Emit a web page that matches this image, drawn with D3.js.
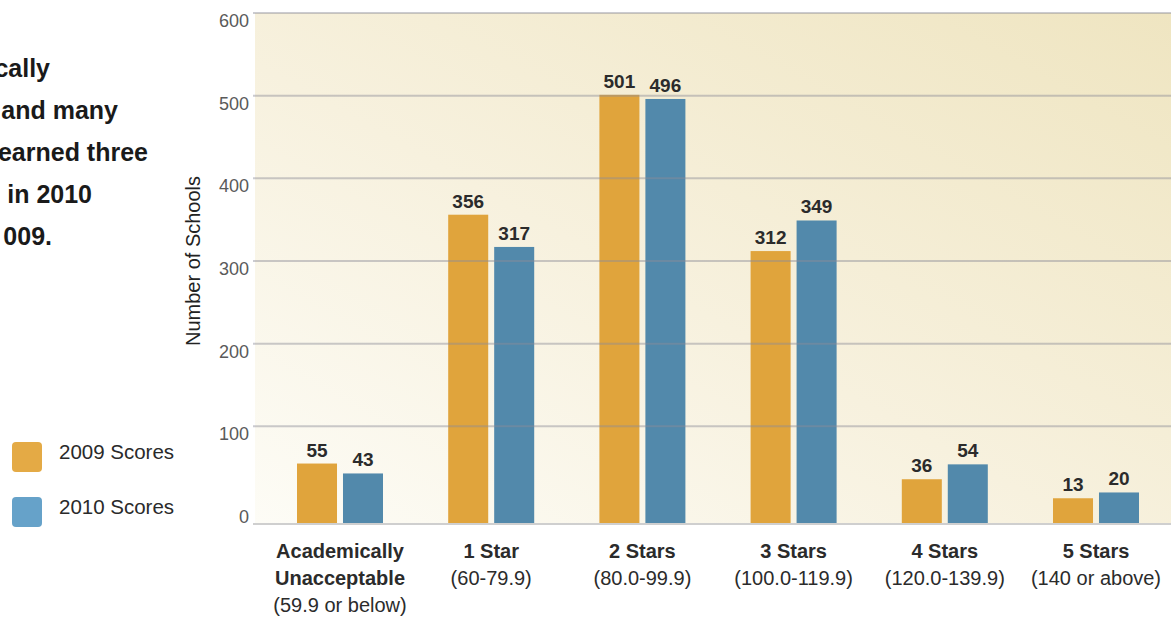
<!DOCTYPE html>
<html lang="en">
  <head>
    <meta charset="utf-8">
    <title>Schools by rating</title>
    <style>
    body {
        margin: 0;
        background: #fff;
    }
    svg {
        display: block;
        font-family: "Liberation Sans", Arial, sans-serif;
    }
    .intro {
        font-weight: bold;
        font-size: 25px;
        fill: #1a1a1a;
    }
    .legend text {
        font-size: 20.5px;
        fill: #2a2a2a;
    }
    .tick-label {
        font-size: 18px;
        fill: #5a5a5a;
    }
    .value {
        font-size: 19px;
        font-weight: bold;
        fill: #2b2b2b;
    }
    .cat {
        font-size: 20px;
        fill: #2b2b2b;
    }
    </style>
  </head>
  <body>
    <div id="chart"></div>

    <script src="https://d3js.org/d3.v7.min.js"></script>
    <script>
    (function(d3) {
        'use strict';

        // data
        var categories = ['Academically Unacceptable', '1 Star', '2 Stars', '3 Stars', '4 Stars', '5 Stars'];
        var nameLines = [['Academically', 'Unacceptable'], ['1 Star'], ['2 Stars'], ['3 Stars'], ['4 Stars'], ['5 Stars']];
        var ranges = ['(59.9 or below)', '(60-79.9)', '(80.0-99.9)', '(100.0-119.9)', '(120.0-139.9)', '(140 or above)'];
        var seriesNames = ['2009 Scores', '2010 Scores'];
        var scores2009 = [55, 356, 501, 312, 36, 13];
        var scores2010 = [43, 317, 496, 349, 54, 20];
        var yTicks = [0, 100, 200, 300, 400, 500, 600];
        var introLines = ['cally', 'and many', 'earned three', ' in 2010', '009.'];

        var width = 1171;
        var height = 617;
        var plotLeft = 255;
        var plotRight = 1171;
        var plotTop = 13;
        var zeroY = 509;      // where the 0 grid level sits
        var floorY = 524;     // visual base line of the bars

        var barColors = ['#e0a43c', '#5289ab'];
        var swatchColors = ['#e4aa45', '#66a2c9'];

        var svg = d3.select('#chart')
            .append('svg')
            .attr('width', width)
            .attr('height', height);

        var defs = svg.append('defs');
        var grad = defs.append('linearGradient')
            .attr('id', 'bg')
            .attr('x1', 0).attr('y1', 1)
            .attr('x2', 1).attr('y2', 0);
        grad.append('stop').attr('offset', '0%').attr('stop-color', '#fdfcf6');
        grad.append('stop').attr('offset', '45%').attr('stop-color', '#f7f1de');
        grad.append('stop').attr('offset', '100%').attr('stop-color', '#efe5c1');

        var x0 = d3.scaleBand()
            .domain(categories)
            .range([264.4, 1171.6])
            .padding(0);

        var x1 = d3.scaleBand()
            .domain(seriesNames)
            .range([-43, 43])
            .paddingInner(0.13);

        var y = d3.scaleLinear()
            .domain([0, 600])
            .range([zeroY, plotTop]);

        // background panel
        svg.append('rect')
            .attr('x', plotLeft)
            .attr('y', y(600))
            .attr('width', plotRight - plotLeft)
            .attr('height', floorY - y(600))
            .attr('fill', 'url(#bg)');

        // bars
        var rows = categories.map(function(c, i) {
            return {cat: c, values: [scores2009[i], scores2010[i]]};
        });

        var groups = svg.selectAll('.group')
            .data(rows)
            .enter()
            .append('g')
            .attr('class', 'group')
            .attr('transform', function(d) {
                return 'translate(' + (x0(d.cat) + x0.bandwidth() / 2) + ',0)';
            });

        var bars = groups.selectAll('g.bar')
            .data(function(d) {
                return d.values.map(function(v, i) { return {series: seriesNames[i], value: v, i: i}; });
            })
            .enter()
            .append('g')
            .attr('class', 'bar');

        bars.append('rect')
            .attr('x', function(d) { return x1(d.series); })
            .attr('y', function(d) { return y(d.value); })
            .attr('width', x1.bandwidth())
            .attr('height', function(d) { return floorY - y(d.value); })
            .attr('fill', function(d) { return barColors[d.i]; });

        // grid lines over the bars
        svg.append('g')
            .selectAll('line')
            .data(yTicks.filter(function(t) { return t > 0; }))
            .enter()
            .append('line')
            .attr('x1', plotLeft - 2)
            .attr('x2', plotRight)
            .attr('y1', function(d) { return y(d); })
            .attr('y2', function(d) { return y(d); })
            .attr('stroke', 'rgba(140,140,150,0.45)')
            .attr('stroke-width', 2);

        svg.append('line')
            .attr('x1', plotLeft - 2)
            .attr('x2', plotRight)
            .attr('y1', floorY)
            .attr('y2', floorY)
            .attr('stroke', '#cfcfcf')
            .attr('stroke-width', 2);

        // value labels
        bars.append('text')
            .attr('class', 'value')
            .attr('x', function(d) { return x1(d.series) + x1.bandwidth() / 2; })
            .attr('y', function(d) { return y(d.value) - 7; })
            .attr('text-anchor', 'middle')
            .text(function(d) { return d.value; });

        // y tick labels
        svg.append('g')
            .selectAll('text')
            .data(yTicks)
            .enter()
            .append('text')
            .attr('class', 'tick-label')
            .attr('x', plotLeft - 6)
            .attr('y', function(d) { return y(d) + 14; })
            .attr('text-anchor', 'end')
            .text(function(d) { return d; });

        // y title
        svg.append('text')
            .attr('transform', 'translate(200,' + y(300) + ') rotate(-90)')
            .attr('text-anchor', 'middle')
            .attr('font-size', 20)
            .attr('fill', '#222')
            .text('Number of Schools');

        // category labels
        var cats = svg.append('g')
            .selectAll('text')
            .data(categories)
            .enter()
            .append('text')
            .attr('class', 'cat')
            .attr('text-anchor', 'middle')
            .attr('x', function(d) { return x0(d) + x0.bandwidth() / 2; })
            .attr('y', 558);

        cats.each(function(d, i) {
            var t = d3.select(this);
            var cx = x0(d) + x0.bandwidth() / 2;
            nameLines[i].forEach(function(line, j) {
                t.append('tspan')
                    .attr('x', cx)
                    .attr('dy', j === 0 ? 0 : 27)
                    .attr('font-weight', 'bold')
                    .text(line);
            });
            t.append('tspan')
                .attr('x', cx)
                .attr('dy', 27)
                .text(ranges[i]);
        });

        // legend
        var legend = svg.selectAll('.legend')
            .data(seriesNames)
            .enter()
            .append('g')
            .attr('class', 'legend')
            .attr('transform', function(d, i) {
                return 'translate(12,' + (442 + i * 55) + ')';
            });

        legend.append('rect')
            .attr('width', 30)
            .attr('height', 30)
            .attr('rx', 4)
            .attr('fill', function(d, i) { return swatchColors[i]; });

        legend.append('text')
            .attr('x', 47)
            .attr('y', 17)
            .text(function(d) { return d; });

        // intro paragraph, cut off by the left edge as in the source layout
        var introRight = [50, 118, 148, 92, 52];
        svg.append('g')
            .selectAll('text')
            .data(introLines)
            .enter()
            .append('text')
            .attr('class', 'intro')
            .attr('text-anchor', 'end')
            .attr('x', function(d, i) { return introRight[i]; })
            .attr('y', function(d, i) { return 77 + i * 42; })
            .text(function(d) { return d; });

    })(window.d3);
    </script>
  </body>
</html>
